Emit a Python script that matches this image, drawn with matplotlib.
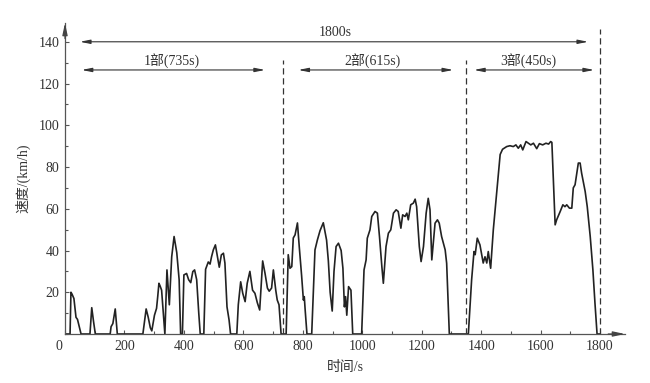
import matplotlib
matplotlib.use("Agg")
import matplotlib.pyplot as plt
import matplotlib.transforms as mtransforms
from matplotlib.ticker import MultipleLocator

plt.rcParams['font.family'] = ['Liberation Serif', 'Noto Sans CJK SC']

# ---- data: time (s) and speed (km/h) ----
time_s = [0, 17, 20, 24, 30, 37, 42, 47, 54,
          84, 90, 96, 102,
          152, 155, 161, 169, 176,
          262, 273, 280, 287, 292, 297, 301, 308, 312, 316, 320, 325, 336, 343, 351, 359, 367, 376, 384, 389,
          395, 400, 409, 416, 423, 430, 436, 443, 450, 455,
          467, 473, 482, 488, 493, 499, 506, 512, 519, 526, 533, 538, 545, 552, 557,
          578, 583, 591, 598, 606, 613, 622, 631, 639, 647, 655, 665, 673, 681, 687, 695, 701, 709, 714, 720, 727,
          744, 751, 757, 763, 768, 774, 782, 788, 796, 802, 805, 808, 814,
          830, 841, 849, 858, 869, 880, 886, 892, 899, 905, 912, 920, 929, 935, 940, 944, 948, 954, 962, 968,
          998, 1006, 1013, 1017, 1026, 1032, 1043, 1051, 1058, 1066, 1071, 1080, 1088, 1096, 1105, 1114, 1121,
          1130, 1136, 1144, 1150, 1155, 1163, 1172, 1178, 1183, 1192, 1198, 1206, 1215, 1222, 1228, 1234, 1239,
          1245, 1253, 1259, 1267, 1279, 1284, 1293,
          1357, 1368, 1376, 1380, 1387, 1396, 1407, 1413, 1419, 1424, 1432, 1441, 1464, 1472, 1486, 1497, 1508,
          1517, 1525, 1533, 1540, 1551, 1559, 1567, 1576, 1587, 1596, 1607, 1618, 1627, 1634, 1638,
          1649, 1654, 1666, 1675, 1682, 1688, 1697, 1705, 1710, 1716, 1722, 1727, 1733, 1738, 1750, 1757,
          1767, 1776, 1783, 1790, 1800]
speed_kmh = [0, 0, 20, 19, 17, 8, 7, 4, 0,
             0, 12.6, 6, 0,
             0, 3.5, 5, 12, 0,
             0, 12, 8, 3, 1.5, 5.5, 9, 12.3, 18, 24.3, 23, 21, 0, 30.7, 14, 37, 46.7, 39, 26, 0,
             0, 28.3, 29, 26, 24.6, 29.9, 30.7, 26, 10, 0,
             0, 31, 34.5, 33.5, 37, 40.3, 42.7, 37.9, 32, 37.9, 38.7, 34, 13, 6.7, 0,
             0, 14, 25, 19.5, 15.5, 24.3, 30, 21, 19.5, 15, 11.5, 35, 29, 22, 20.5, 22, 30.7, 21, 16.3, 14, 0,
             0, 38, 31.5, 32.3, 46, 47.5, 53.2, 42, 28, 16.3, 17.9, 11.5, 0,
             0, 40.3, 45, 49.5, 53.3, 45, 35, 20, 11, 30, 41.9, 43.5, 40, 31.5, 13, 17.9, 9, 22.7, 21, 0,
             0, 30.7, 35.5, 45.9, 49.9, 56.3, 58.7, 57.9, 46.7, 32.3, 24.3, 41.9, 48.3, 49.9, 57.9, 59.5, 58.7,
             50.7, 57.1, 56.3, 57.9, 54.7, 61.9, 62.7, 64.6, 61, 41.9, 34.7, 41.9, 57.9, 65, 59.5, 35.5, 43.5,
             53.1, 54.7, 53.1, 46.7, 40.3, 33.9, 0,
             0, 26, 39.5, 38, 45.9, 42.7, 34, 37, 34, 39.5, 31.5, 50, 86, 88.5, 89.8, 90.2, 89.8,
             90.6, 89, 90.6, 88.2, 92.2, 91.4, 90.6, 91.4, 88.8, 91.2, 90.6, 91.4, 91, 92.2, 91.8,
             52.3, 54.7, 58.7, 61.9, 61, 61.9, 60.3, 60.3, 70, 71.5, 77.1, 81.9, 81.9, 77.1, 68.3, 61,
             46.7, 30.7, 14.7, 0, 0]

phase_bounds = [735, 1350, 1800]
phase_labels = ["1部(735s)", "2部(615s)", "3部(450s)"]
phase_arrows = [(56, 673), (785, 1306), (1376, 1780)]
phase_text_x = [359, 1036, 1558]
total_label = "1800s"
x_ticks = [0, 200, 400, 600, 800, 1000, 1200, 1400, 1600, 1800]
y_ticks = [20, 40, 60, 80, 100, 120, 140]

fig = plt.figure(figsize=(6.5, 3.83), dpi=100)
ax = fig.add_axes([65/650, 49/383, 560/650, 311/383])
ink = '#222222'

ax.plot(time_s, speed_kmh, color=ink, lw=1.2, solid_joinstyle='round')

ax.set_xlim(0, 1884)
ax.set_ylim(0, 149)

for s in ['top', 'right']:
    ax.spines[s].set_visible(False)
for s in ['left', 'bottom']:
    ax.spines[s].set_color('#555555')
    ax.spines[s].set_linewidth(0.9)

ax.set_xticks(x_ticks)
ax.set_yticks(y_ticks)
ax.xaxis.set_minor_locator(MultipleLocator(100))
ax.yaxis.set_minor_locator(MultipleLocator(10))
ax.tick_params(which='major', direction='in', length=3, width=0.8, color='#555555',
               labelsize=10, labelcolor='#333333', pad=4)
ax.tick_params(which='minor', direction='in', length=2, width=0.8, color='#555555')

# shift the "0" label slightly left, as in the reference
fig.canvas.draw()
lbl0 = ax.get_xticklabels()[0]
lbl0.set_transform(lbl0.get_transform() + mtransforms.ScaledTranslation(-6/100, 0, fig.dpi_scale_trans))

# axis arrow heads
ax.annotate('', xy=(0, 1.0), xytext=(0, 0.95), xycoords='axes fraction',
            arrowprops=dict(arrowstyle='-|>,head_length=0.7,head_width=0.15', lw=0.9,
                            color='#444444', shrinkA=0, shrinkB=0))
ax.annotate('', xy=(1.0, 0), xytext=(0.97, 0), xycoords='axes fraction',
            arrowprops=dict(arrowstyle='-|>,head_length=0.7,head_width=0.15', lw=0.9,
                            color='#444444', shrinkA=0, shrinkB=0))

# dashed phase boundaries
tops = [131.4, 131.4, 146]
for xb, tp in zip(phase_bounds, tops):
    ax.plot([xb, xb], [0, tp], color='#333333', lw=0.9, ls=(0, (5, 3)), clip_on=False)

arrow_style = dict(arrowstyle='<|-|>,head_length=0.6,head_width=0.12', lw=0.8,
                   color='#333333', shrinkA=0, shrinkB=0)
ax.annotate('', xy=(1760, 140), xytext=(50, 140), arrowprops=arrow_style, annotation_clip=False)
ax.text(910, 144.5, total_label, ha='center', va='center', fontsize=10, color='#333333')
for (a, b), lab, tx in zip(phase_arrows, phase_labels, phase_text_x):
    ax.annotate('', xy=(b, 126.5), xytext=(a, 126.5), arrowprops=arrow_style, annotation_clip=False)
    ax.text(tx, 131, lab, ha='center', va='center', fontsize=10, color='#333333')

ax.set_xlabel('时间/s', fontsize=10, color='#333333', labelpad=6)
ax.set_ylabel('速度/(km/h)', fontsize=10, color='#333333', labelpad=6)

fig.savefig('out.png', dpi=100)
